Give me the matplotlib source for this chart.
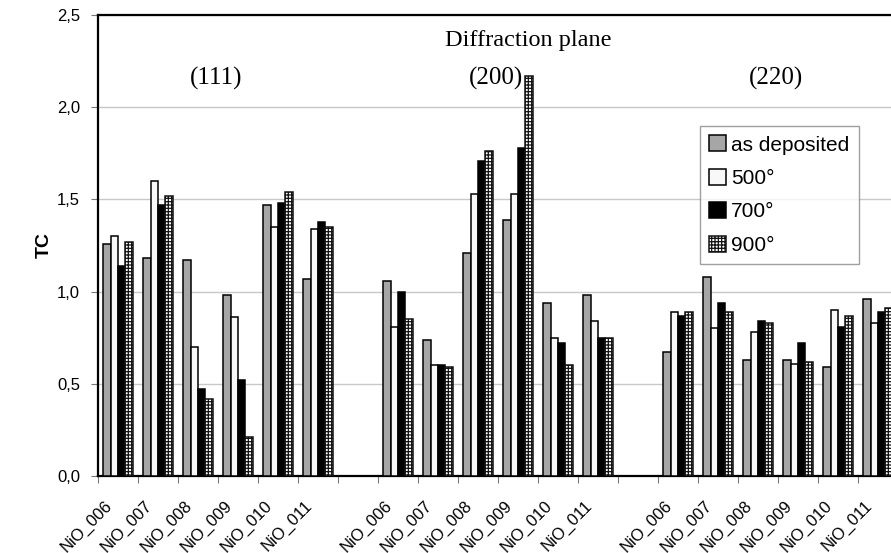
import numpy as np
import matplotlib
matplotlib.use("Agg")
import matplotlib.pyplot as plt

# data
planes = ["(111)", "(200)", "(220)"]
samples = ["NiO_006", "NiO_007", "NiO_008", "NiO_009", "NiO_010", "NiO_011"]
series_names = ["as deposited", "500°", "700°", "900°"]

as_deposited = [1.26, 1.18, 1.17, 0.98, 1.47, 1.07,
                1.06, 0.74, 1.21, 1.39, 0.94, 0.98,
                0.67, 1.08, 0.63, 0.63, 0.59, 0.96]
t500 = [1.30, 1.60, 0.70, 0.86, 1.35, 1.34,
        0.81, 0.60, 1.53, 1.53, 0.75, 0.84,
        0.89, 0.80, 0.78, 0.61, 0.90, 0.83]
t700 = [1.14, 1.47, 0.47, 0.52, 1.48, 1.38,
        1.00, 0.60, 1.71, 1.78, 0.72, 0.75,
        0.87, 0.94, 0.84, 0.72, 0.81, 0.89]
t900 = [1.27, 1.52, 0.42, 0.21, 1.54, 1.35,
        0.85, 0.59, 1.76, 2.17, 0.60, 0.75,
        0.89, 0.89, 0.83, 0.62, 0.87, 0.91]

plt.rcParams['font.family'] = ['Liberation Sans', 'DejaVu Sans']
plt.rcParams['hatch.linewidth'] = 0.9

fig = plt.figure(figsize=(8.91, 5.53), dpi=100)
# the right edge of the plot runs past the figure, as in the original
ax = fig.add_axes([98/891, 77/553, 800/891, 461/553])

# slot positions: 6 samples per plane, one empty slot between planes
n = len(samples)
pos = np.array([g * (n + 1) + i for g in range(len(planes)) for i in range(n)], dtype=float)

styles = [
    dict(facecolor="#a6a6a6", edgecolor="black", hatch=None),
    dict(facecolor="#f8f8f8", edgecolor="black", hatch=None),
    dict(facecolor="black", edgecolor="black", hatch=None),
    dict(facecolor="white", edgecolor="#111111", hatch="+++++"),
]
w = 0.185
for k, (vals, st) in enumerate(zip([as_deposited, t500, t700, t900], styles)):
    off = (k - 1.5) * w
    ax.bar(pos + off, vals, width=w, label=series_names[k], linewidth=1.1,
           zorder=3, **st)

nslots = len(planes) * (n + 1) - 1
ax.set_xlim(-0.5, nslots - 0.5)
ax.set_ylim(0, 2.5)
ax.set_yticks(np.arange(0, 2.51, 0.5))
ax.set_yticklabels([f"{v:.1f}".replace(".", ",") for v in np.arange(0, 2.51, 0.5)],
                   fontsize=12)
ax.yaxis.grid(True, color="#c8c8c8", linewidth=1.0, zorder=0)
ax.set_axisbelow(True)

# tick marks at slot boundaries, labels (slightly left of centre) under the bar groups
ax.set_xticks(np.arange(-0.5, nslots, 1.0))
ax.set_xticklabels([])
ax.set_xticks(pos - 0.33, minor=True)
ax.set_xticklabels(samples * len(planes), minor=True, rotation=45,
                   ha="right", rotation_mode="anchor", fontsize=12)
ax.tick_params(axis="x", which="major", length=5, color="#777777")
ax.tick_params(axis="x", which="minor", length=0, pad=15.5)
ax.tick_params(axis="y", length=5, color="#777777", pad=8)

for s in ["left", "bottom", "top"]:
    ax.spines[s].set_linewidth(1.6)
ax.spines["right"].set_visible(False)

ax.set_ylabel("TC", fontsize=14, fontweight="bold", labelpad=3)

serif = ["Liberation Serif", "DejaVu Serif"]
ax.text(10.25, 2.33, "Diffraction plane", family=serif, fontsize=17.5,
        ha="center", va="baseline")
for g, p in enumerate(planes):
    cx = pos[g * n:(g + 1) * n].mean()
    ax.text(cx - 0.05, 2.12, p, family=serif, fontsize=18, ha="center", va="baseline")

leg = ax.legend(loc="upper left", bbox_to_anchor=(0.7525, 0.759),
                borderaxespad=0, fontsize=15, frameon=True, fancybox=False,
                handlelength=0.8, handleheight=0.8, handletextpad=0.25,
                labelspacing=0.68, borderpad=0.45)
leg.get_frame().set_edgecolor("#888888")
leg.get_frame().set_linewidth(1.0)

fig.savefig("out.png", dpi=100)
